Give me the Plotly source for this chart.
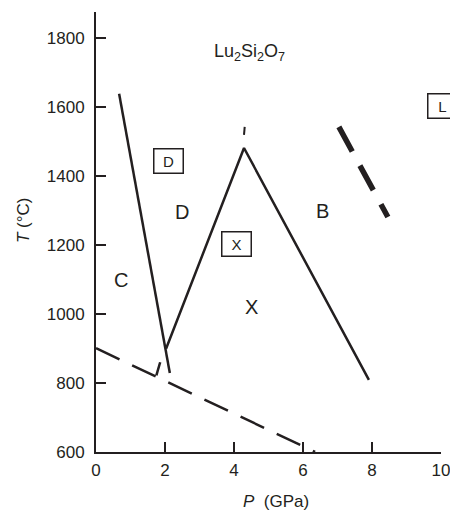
import plotly.graph_objects as go

# Phase boundaries (P in GPa, T in °C)
steep_P = [0.67, 2.14]
steep_T = [1638, 829]

vee_P = [2.03, 4.29, 7.91]
vee_T = [899, 1481, 809]

peak_ext_P = [4.29, 4.31]
peak_ext_T = [1519, 1542]

lowdash_P = [0.0, 6.35]
lowdash_T = [901, 600]

corner_P = [1.86, 1.75]
corner_T = [860, 822]

melt_P = [7.04, 8.46]
melt_T = [1542, 1281]

# Region labels
region_text = ["C", "D", "B", "X"]
region_P = [0.72, 2.48, 6.57, 4.51]
region_T = [1097, 1296, 1297, 1021]

box_text = ["D", "X", "L"]
box_P = [2.10, 4.07, 10.04]
box_T = [1443, 1204, 1604]

x_ticks = [0, 2, 4, 6, 8, 10]
y_ticks = [600, 800, 1000, 1200, 1400, 1600, 1800]

INK = "#231f20"
FONT = "Liberation Sans, Arial, sans-serif"

X_RANGE = [0, 10]
Y_RANGE = [600, 1875]

# page has an 8px body margin: figure occupies 450x506 starting at (8, 8)
OFF = 8
W, H = 450, 506
L, R, T, B = 88, 17, 4, 62
pw, ph = W - L - R, H - T - B

def paper(px, py):
    return (px - OFF - L) / pw, (H - B - (py - OFF)) / ph

fig = go.Figure()

def seg(x, y, width, dash="solid"):
    fig.add_trace(go.Scatter(x=x, y=y, mode="lines",
                             line=dict(color=INK, width=width, dash=dash),
                             hoverinfo="skip", showlegend=False, cliponaxis=False))

seg(steep_P, steep_T, 2.5)
seg(vee_P, vee_T, 2.5)
seg(peak_ext_P, peak_ext_T, 2)
seg(lowdash_P, lowdash_T, 2.5, "26px,14px")
seg(corner_P, corner_T, 2.5)
seg(melt_P, melt_T, 5.5, "28px,16px")

annotations = []
for t, x, y in zip(region_text, region_P, region_T):
    annotations.append(dict(x=x, y=y, xref="x", yref="y", text=t, showarrow=False,
                            font=dict(size=20, color=INK, family=FONT)))
for t, x, y in zip(box_text, box_P, box_T):
    # boxed labels: data values mapped onto paper so ones past the axis end still show
    xp = (x - X_RANGE[0]) / (X_RANGE[1] - X_RANGE[0])
    yp = (y - Y_RANGE[0]) / (Y_RANGE[1] - Y_RANGE[0])
    annotations.append(dict(x=xp, y=yp, xref="paper", yref="paper", text=t, showarrow=False,
                            xanchor="center", yanchor="middle",
                            font=dict(size=15, color=INK, family=FONT),
                            width=28, height=23, borderpad=0, borderwidth=1.5,
                            bordercolor=INK, align="center", valign="middle"))
annotations.append(dict(x=4.46, y=1759, xref="x", yref="y",
                        text="Lu<sub>2</sub>Si<sub>2</sub>O<sub>7</sub>", showarrow=False,
                        font=dict(size=18, color=INK, family=FONT)))
px_, py_ = paper(276, 501)
annotations.append(dict(x=px_, y=py_, xref="paper", yref="paper",
                        xanchor="center", yanchor="middle",
                        text="<i>P</i>&nbsp;&nbsp;(GPa)", showarrow=False,
                        font=dict(size=17, color=INK, family=FONT)))
px_, py_ = paper(23, 220)
annotations.append(dict(x=px_, y=py_, xref="paper", yref="paper",
                        xanchor="center", yanchor="middle",
                        text="<i>T</i>&nbsp;(°C)", showarrow=False, textangle=-90,
                        font=dict(size=17, color=INK, family=FONT)))

fig.update_layout(
    width=W, height=H,
    margin=dict(l=L, r=R, t=T, b=B, pad=0),
    paper_bgcolor="white", plot_bgcolor="white",
    font=dict(family=FONT, color=INK, size=17),
    annotations=annotations,
    showlegend=False,
)
fig.update_xaxes(range=X_RANGE, tickvals=x_ticks, ticktext=[str(v) for v in x_ticks],
                 ticks="inside", ticklen=10, tickwidth=2, tickcolor=INK,
                 showline=True, linewidth=2, linecolor=INK, showgrid=False, zeroline=False,
                 tickfont=dict(size=17, color=INK, family=FONT), ticklabelstandoff=2)
fig.update_yaxes(range=Y_RANGE, tickvals=y_ticks, ticktext=[str(v) for v in y_ticks],
                 ticks="inside", ticklen=10, tickwidth=2, tickcolor=INK,
                 showline=True, linewidth=2, linecolor=INK, showgrid=False, zeroline=False,
                 tickfont=dict(size=17, color=INK, family=FONT), ticklabelstandoff=6)

fig.write_html("out.html")
